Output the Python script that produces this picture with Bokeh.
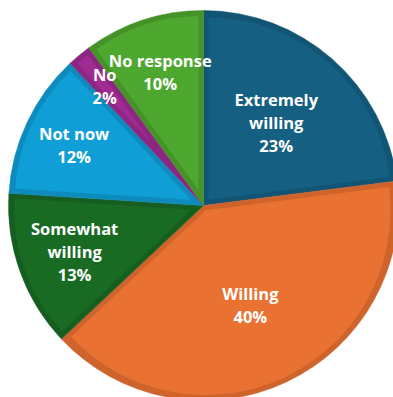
import numpy as np
from bokeh.plotting import figure
from bokeh.models import ColumnDataSource, Range1d
from bokeh.core.properties import value
from bokeh.embed import file_html
from bokeh.resources import INLINE

# ---- data ----
categories = ["Extremely willing", "Willing", "Somewhat willing", "Not now", "No", "No response"]
label_names = ["Extremely\nwilling", "Willing", "Somewhat\nwilling", "Not now", "No", "No response"]
percent = [23, 40, 13, 12, 2, 10]
colors = ["#156082", "#E97132", "#196B24", "#0F9ED5", "#A02B93", "#4EA72E"]

# ---- layout ----
W, H = 393, 397
CX, CY = 203, 205          # pie centre in pixels from top-left
R = 195                    # radius in pixels
BAND = 5                   # darker inner border width
label_r = [110, 110, 137, 143, 155, 140]


def shade(hex_color, f=0.885):
    h = hex_color.lstrip("#")
    r, g, b = (int(h[i:i + 2], 16) for i in (0, 2, 4))
    return "#%02x%02x%02x" % (int(r * f), int(g * f), int(b * f))


vals = np.array(percent, dtype=float)
frac = vals / vals.sum()
cum = np.cumsum(frac)
th_start = 2 * np.pi * (cum - frac)      # clockwise from 12 o'clock
th_end = 2 * np.pi * cum
th_mid = (th_start + th_end) / 2
span = th_end - th_start

start_angle = np.pi / 2 - th_start
end_angle = np.pi / 2 - th_end

# inner (lighter) wedge, inset by BAND from every edge
apex = BAND / np.sin(np.minimum(span, np.pi - 1e-6) / 2)
apex = np.where(span >= np.pi, BAND, apex)
inner_x = apex * np.sin(th_mid)
inner_y = apex * np.cos(th_mid)
inner_r = R - BAND - apex

src = ColumnDataSource(dict(
    cat=categories,
    start=start_angle,
    end=end_angle,
    color=colors,
    dark=[shade(c) for c in colors],
    ix=inner_x,
    iy=inner_y,
    ir=inner_r,
    lx=np.array(label_r) * np.sin(th_mid),
    ly=np.array(label_r) * np.cos(th_mid),
    label=[f"{n}\n{p}%" for n, p in zip(label_names, percent)],
))

p = figure(width=W, height=H, output_backend="svg", toolbar_location=None,
           x_range=Range1d(-CX, W - CX), y_range=Range1d(-(H - CY), CY),
           min_border=0, outline_line_color=None, background_fill_color="white")
p.axis.visible = False
p.grid.visible = False

p.wedge(x=0, y=0, radius=R, start_angle="start", end_angle="end", direction="clock",
        fill_color="dark", line_color="dark", line_width=0.5, source=src)
p.wedge(x="ix", y="iy", radius="ir", start_angle="start", end_angle="end", direction="clock",
        fill_color="color", line_color=None, source=src)

p.text(x="lx", y="ly", text="label", source=src, text_color="white",
       text_font=value("Open Sans"), text_font_style="bold", text_font_size="16.5px",
       text_align="center", text_baseline="middle", text_line_height=1.0)

open("out.html", "w").write(file_html(p, INLINE))
